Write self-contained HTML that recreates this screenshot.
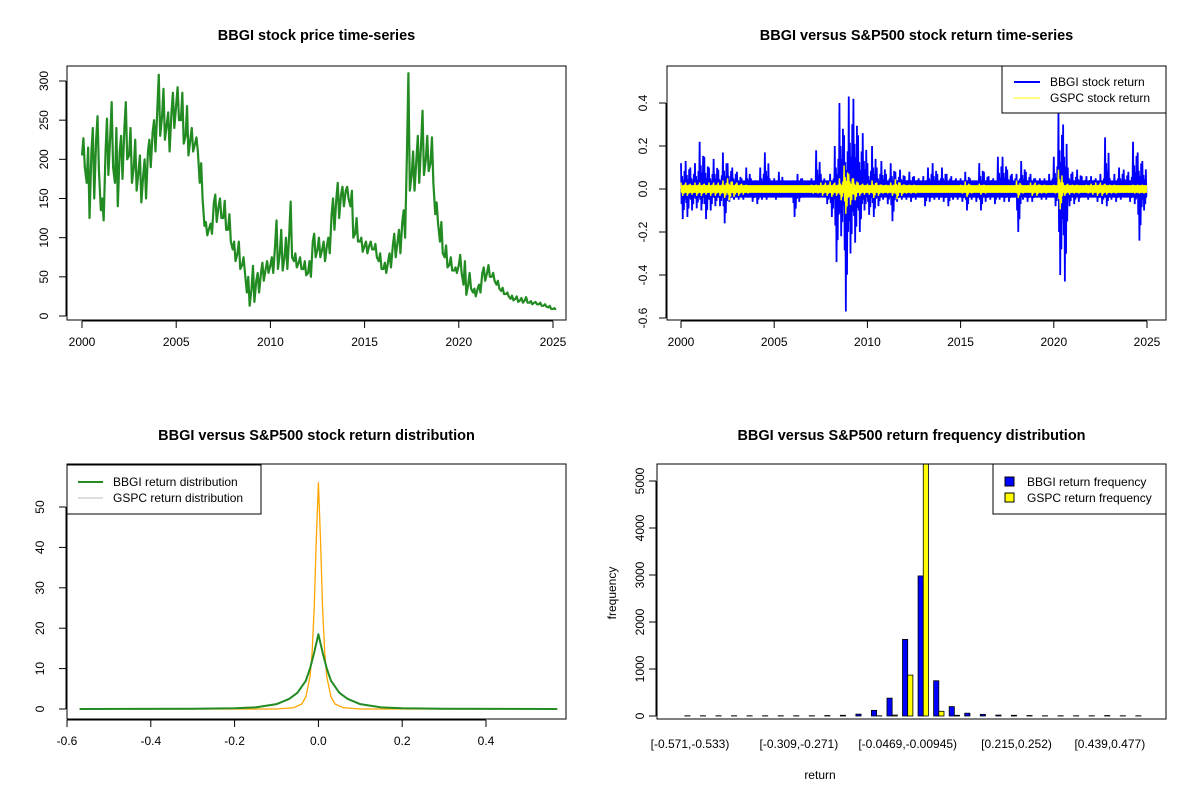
<!DOCTYPE html>
<html><head><meta charset="utf-8"><style>
html,body{margin:0;padding:0;background:#fff;}
svg{display:block;font-family:"Liberation Sans",Arial,sans-serif;}
</style></head><body>
<svg id="s" width="1200" height="800" viewBox="0 0 1200 800"></svg>
<script>
// ---------- data ----------
const priceYears = [];
for (let i = 0; i <= 100; i++) priceYears.push(2000 + i * 0.25);
const priceMid = [205,170,210,225,135,210,230,170,210,240,205,190,185,180,210,235,265,255,245,260,270,250,230,225,220,170,115,112,145,140,125,110,85,80,65,30,35,45,55,60,65,90,80,75,105,70,68,60,55,95,85,85,90,130,150,155,160,140,105,95,90,90,85,70,60,70,90,95,120,210,180,200,220,200,195,130,95,75,65,58,65,40,40,30,35,55,55,50,40,32,28,22,22,20,20,17,17,15,13,11,9];
const priceLo = [190,125,150,185,122,180,190,140,175,200,170,160,145,150,190,210,230,225,210,240,250,220,205,210,210,150,103,105,120,125,110,95,70,60,55,13,18,30,45,55,55,60,58,60,75,62,60,52,50,75,75,70,80,110,125,140,150,100,95,82,80,85,75,60,55,62,75,80,100,160,160,170,180,185,170,118,80,62,58,55,55,27,35,25,30,45,50,45,35,28,25,20,18,17,17,15,15,13,12,9,8];
const priceHi = [227,215,240,255,150,252,273,240,230,273,240,225,205,200,225,250,308,290,260,285,292,285,268,240,228,195,120,118,155,150,147,130,95,95,75,50,64,55,68,70,75,122,110,100,146,80,75,70,70,105,100,95,100,150,170,165,165,160,125,100,95,95,92,80,68,80,105,110,135,310,210,230,262,230,228,145,120,90,75,62,78,70,55,35,40,62,65,55,45,36,30,26,25,23,24,19,18,17,15,13,10];

const bbgiHi = [0.12,0.13,0.10,0.12,0.22,0.15,0.10,0.14,0.09,0.17,0.12,0.10,0.08,0.05,0.10,0.05,0.04,0.10,0.17,0.05,0.05,0.08,0.04,0.03,0.04,0.07,0.05,0.03,0.05,0.18,0.07,0.04,0.07,0.20,0.40,0.25,0.43,0.42,0.25,0.26,0.12,0.20,0.10,0.13,0.07,0.12,0.08,0.09,0.06,0.08,0.06,0.05,0.06,0.10,0.12,0.07,0.10,0.07,0.06,0.05,0.05,0.08,0.05,0.04,0.12,0.08,0.06,0.05,0.15,0.15,0.09,0.07,0.07,0.13,0.08,0.07,0.05,0.05,0.05,0.07,0.15,0.36,0.30,0.10,0.08,0.09,0.06,0.06,0.06,0.05,0.07,0.24,0.05,0.07,0.10,0.09,0.08,0.22,0.17,0.13,0.05];
const bbgiLo = [-0.14,-0.13,-0.10,-0.09,-0.10,-0.14,-0.10,-0.08,-0.08,-0.16,-0.06,-0.05,-0.05,-0.05,-0.04,-0.06,-0.07,-0.05,-0.05,-0.04,-0.05,-0.04,-0.03,-0.04,-0.13,-0.06,-0.04,-0.03,-0.03,-0.04,-0.03,-0.07,-0.13,-0.34,-0.22,-0.57,-0.30,-0.25,-0.20,-0.10,-0.12,-0.13,-0.08,-0.05,-0.07,-0.15,-0.06,-0.05,-0.05,-0.06,-0.05,-0.04,-0.08,-0.06,-0.05,-0.05,-0.06,-0.08,-0.05,-0.05,-0.06,-0.10,-0.05,-0.06,-0.10,-0.06,-0.05,-0.07,-0.05,-0.06,-0.06,-0.04,-0.20,-0.05,-0.06,-0.06,-0.04,-0.05,-0.05,-0.04,-0.08,-0.40,-0.43,-0.08,-0.07,-0.06,-0.04,-0.05,-0.04,-0.06,-0.07,-0.08,-0.05,-0.06,-0.05,-0.04,-0.06,-0.07,-0.24,-0.10,-0.07];
const gspcHi = [0.03,0.03,0.025,0.03,0.03,0.025,0.03,0.03,0.03,0.04,0.05,0.035,0.03,0.025,0.02,0.015,0.015,0.015,0.015,0.015,0.015,0.015,0.015,0.015,0.015,0.015,0.015,0.015,0.02,0.02,0.03,0.03,0.035,0.03,0.05,0.11,0.07,0.05,0.03,0.025,0.025,0.04,0.03,0.02,0.02,0.03,0.045,0.03,0.02,0.02,0.02,0.015,0.015,0.015,0.015,0.015,0.015,0.015,0.015,0.015,0.02,0.035,0.02,0.015,0.025,0.02,0.015,0.01,0.01,0.01,0.01,0.01,0.04,0.02,0.015,0.03,0.03,0.02,0.02,0.015,0.02,0.09,0.03,0.025,0.02,0.02,0.015,0.02,0.025,0.03,0.03,0.025,0.02,0.02,0.015,0.015,0.015,0.02,0.02,0.02,0.02];
const gspcLo = gspcHi.map(v => -v * 1.05);

const densBbgiX = [-0.57,-0.3,-0.2,-0.15,-0.1,-0.07,-0.05,-0.03,-0.02,-0.01,0,0.01,0.02,0.03,0.05,0.07,0.1,0.15,0.2,0.3,0.57];
const densBbgiY = [0,0.05,0.2,0.4,1.2,2.5,4,7,10,14,18.5,14,10,7,4,2.5,1.2,0.4,0.2,0.05,0];
const densGspcX = [-0.57,-0.1,-0.06,-0.04,-0.03,-0.02,-0.015,-0.01,-0.005,0,0.005,0.01,0.015,0.02,0.03,0.04,0.06,0.1,0.57];
const densGspcY = [0,0,0.3,1.2,3,8,14,25,42,56,42,25,14,8,3,1.2,0.3,0,0];

const histBbgi = [5,5,5,5,5,5,5,5,5,10,15,40,120,380,1630,2980,750,200,60,35,20,15,10,5,5,5,5,10,5,5];
const histGspc = [0,0,0,0,0,0,0,0,0,0,0,0,5,20,870,5600,100,15,0,0,0,0,0,0,0,0,0,0,0,0];
const histLabels = ["[-0.571,-0.533)","[-0.309,-0.271)","[-0.0469,-0.00945)","[0.215,0.252)","[0.439,0.477)"];
const histLabelIdx = [0,7,14,21,27];

const yearTicks = [2000,2005,2010,2015,2020,2025];
const priceTicks = [0,50,100,150,200,250,300];
const retTicks = [-0.6,-0.4,-0.2,0.0,0.2,0.4];
const densXTicks = [-0.6,-0.4,-0.2,0,0.2,0.4];
const densYTicks = [0,10,20,30,40,50];
const freqTicks = [0,1000,2000,3000,4000,5000];

// ---------- helpers ----------
const S = document.getElementById('s');
const NS = 'http://www.w3.org/2000/svg';
function mk(tag, attrs, parent) {
  const e = document.createElementNS(NS, tag);
  for (const k in attrs) e.setAttribute(k, attrs[k]);
  (parent || S).appendChild(e);
  return e;
}
function txt(x, y, s, size, extra, parent) {
  const t = mk('text', Object.assign({x: x, y: y, 'font-size': size, 'text-anchor': 'middle', fill: '#000'}, extra || {}), parent);
  t.textContent = s;
  return t;
}
function lin(d0, d1, r0, r1) { return v => r0 + (v - d0) * (r1 - r0) / (d1 - d0); }

function panel(name, box, title) {
  const g = mk('g', {});
  
  
  const t = txt((box.x0 + box.x1) / 2, box.titleY, title, 14.5, {'font-weight': 'bold'}, g);
  
  
  return g;
}
function frame(g, box, name) {
  const r = mk('rect', {x: box.x0, y: box.y0, width: box.x1 - box.x0, height: box.y1 - box.y0, fill: 'none', stroke: '#000', 'stroke-width': 1}, g);
  
  
}
function xAxis(g, box, ticks, sx, fmt, name) {
  const a = mk('g', {}, g);
  
  
  const y = box.y1 + 1;
  mk('line', {x1: sx(ticks[0]), x2: sx(ticks[ticks.length - 1]), y1: y, y2: y, stroke: '#000'}, a);
  ticks.forEach(v => {
    mk('line', {x1: sx(v), x2: sx(v), y1: y, y2: y + 7, stroke: '#000'}, a);
    txt(sx(v), y + 25, fmt(v), 12, {}, a);
  });
}
function yAxis(g, box, ticks, sy, fmt, name, lx) {
  const a = mk('g', {}, g);
  
  
  const x = box.x0 - 1;
  mk('line', {x1: x, x2: x, y1: sy(ticks[0]), y2: sy(ticks[ticks.length - 1]), stroke: '#000'}, a);
  ticks.forEach(v => {
    mk('line', {x1: x - 7, x2: x, y1: sy(v), y2: sy(v), stroke: '#000'}, a);
    txt(lx, sy(v), fmt(v), 12, {transform: 'rotate(-90 ' + lx + ' ' + sy(v) + ')'}, a);
  });
}
function clip(id, box) {
  const c = mk('clipPath', {id: id});
  mk('rect', {x: box.x0, y: box.y0, width: box.x1 - box.x0, height: box.y1 - box.y0}, c);
}

// ---------- Panel 1: price ----------
(function () {
  const box = {x0: 67, x1: 566, y0: 66, y1: 320, titleY: 40};
  const g = panel('price-panel', box, 'BBGI stock price time-series');
  const sx = lin(2000, 2025, 82, 553), sy = lin(0, 300, 316, 81);
  const q = 0.25;
  let pts = [];
  priceYears.forEach((yr, i) => {
    pts.push([sx(yr), sy(priceMid[i])]);
    pts.push([sx(yr + q * 0.3), sy(priceHi[i])]);
    pts.push([sx(yr + q * 0.6), sy(priceLo[i])]);
  });
  const p = mk('polyline', {points: pts.map(a => a.join(',')).join(' '), fill: 'none', stroke: '#228B22', 'stroke-width': 2.2, 'stroke-linejoin': 'round'}, g);
  
  
  frame(g, box, 'price');
  xAxis(g, box, yearTicks, sx, v => v, 'price');
  yAxis(g, box, priceTicks, sy, v => v, 'price', 48);
})();

// ---------- Panel 2: returns ----------
(function () {
  const box = {x0: 667, x1: 1166, y0: 66, y1: 320, titleY: 40};
  const g = panel('return-panel', box, 'BBGI versus S&P500 stock return time-series');
  clip('c2', box);
  const sx = lin(2000, 2025, 681, 1147), sy = lin(0, 0.2, 189, 146);
  function series(hi, lo, color, w, name, core) {
    let pts = [];
    priceYears.forEach((yr, i) => {
      if (i === hi.length - 1) return;
      const f = [hi[i], lo[i] * 0.5, hi[i] * 0.5, lo[i], hi[i] * 0.35, lo[i] * 0.7, hi[i] * 0.7, lo[i] * 0.35];
      f.forEach((v, k) => pts.push([sx(yr + 0.25 * k / f.length), sy(v)]));
    });
    const p = mk('polyline', {points: pts.map(a => a.join(',')).join(' '), fill: 'none', stroke: color, 'stroke-width': w, 'clip-path': 'url(#c2)'}, g);
    
    
    const r = mk('rect', {x: sx(2000), y: sy(core), width: sx(2025) - sx(2000), height: sy(-core) - sy(core), fill: color}, g);
    
    
  }
  series(bbgiHi, bbgiLo, '#0000FF', 1.8, 'bbgi-return-line', 0.04);
  series(gspcHi, gspcLo, '#FFFF00', 1.4, 'gspc-return-line', 0.018);
  frame(g, box, 'return');
  xAxis(g, box, yearTicks, sx, v => v, 'return');
  yAxis(g, box, retTicks, sy, v => v.toFixed(1), 'return', 647);
  const lg = mk('g', {}, g);
  
  
  mk('rect', {x: 1002, y: 66, width: 164, height: 47, fill: '#fff', stroke: '#000'}, lg);
  mk('line', {x1: 1014, x2: 1040, y1: 82, y2: 82, stroke: '#0000FF', 'stroke-width': 2}, lg);
  mk('line', {x1: 1014, x2: 1040, y1: 98, y2: 98, stroke: '#FFFF00', 'stroke-width': 1}, lg);
  txt(1050, 86, 'BBGI stock return', 12, {'text-anchor': 'start'}, lg);
  txt(1050, 102, 'GSPC stock return', 12, {'text-anchor': 'start'}, lg);
})();

// ---------- Panel 3: density ----------
(function () {
  const box = {x0: 67, x1: 566, y0: 464, y1: 719, titleY: 440};
  const g = panel('density-panel', box, 'BBGI versus S&P500 stock return distribution');
  const sx = lin(-0.6, 0.4, 67, 486), sy = lin(0, 50, 709, 507);
  function curve(xs, ys, color, w, name) {
    const p = mk('polyline', {points: xs.map((x, i) => sx(x) + ',' + sy(ys[i])).join(' '), fill: 'none', stroke: color, 'stroke-width': w, 'stroke-linejoin': 'round'}, g);
    
    
  }
  curve(densGspcX, densGspcY, '#FFA500', 1.3, 'gspc-density-line');
  curve(densBbgiX, densBbgiY, '#228B22', 2, 'bbgi-density-line');
  frame(g, box, 'density');
  xAxis(g, box, densXTicks, sx, v => v === 0 ? '0.0' : v.toFixed(1), 'density');
  yAxis(g, box, densYTicks, sy, v => v, 'density', 44);
  const lg = mk('g', {}, g);
  
  
  mk('rect', {x: 67, y: 465, width: 194, height: 49, fill: '#fff', stroke: '#000'}, lg);
  mk('line', {x1: 78, x2: 103, y1: 482, y2: 482, stroke: '#228B22', 'stroke-width': 2}, lg);
  mk('line', {x1: 78, x2: 103, y1: 498, y2: 498, stroke: '#BEBEBE', 'stroke-width': 1}, lg);
  txt(113, 486, 'BBGI return distribution', 12, {'text-anchor': 'start'}, lg);
  txt(113, 502, 'GSPC return distribution', 12, {'text-anchor': 'start'}, lg);
})();

// ---------- Panel 4: histogram ----------
(function () {
  const box = {x0: 657, x1: 1166, y0: 464, y1: 719, titleY: 440};
  const g = panel('histogram-panel', box, 'BBGI versus S&P500 return frequency distribution');
  clip('c4', box);
  const gc = i => 690 + 15.55 * i;
  const bw = 15.55 / 3;
  const sy = lin(0, 1000, 716, 669);
  histBbgi.forEach((v, i) => {
    const r = mk('rect', {x: gc(i) - bw, y: sy(v), width: bw, height: sy(0) - sy(v), fill: '#0000FF', stroke: '#000', 'stroke-width': 0.8, 'clip-path': 'url(#c4)'}, g);
    
    
  });
  histGspc.forEach((v, i) => {
    const r = mk('rect', {x: gc(i), y: sy(v), width: bw, height: sy(0) - sy(v), fill: '#FFFF00', stroke: '#000', 'stroke-width': 0.8, 'clip-path': 'url(#c4)'}, g);
    
    
  });
  frame(g, box, 'histogram');
  const xa = mk('g', {}, g);
  
  
  histLabelIdx.forEach((idx, k) => txt(gc(idx), 748, histLabels[k], 12, {}, xa));
  yAxis(g, box, freqTicks, sy, v => v, 'histogram', 644);
  const xt = txt(820, 779, 'return', 12, {}, g);
  
  
  const yt = txt(616, 593, 'frequency', 12, {transform: 'rotate(-90 616 593)'}, g);
  
  
  const lg = mk('g', {}, g);
  
  
  mk('rect', {x: 993, y: 464, width: 173, height: 50, fill: '#fff', stroke: '#000'}, lg);
  mk('rect', {x: 1005, y: 477, width: 9, height: 9, fill: '#0000FF', stroke: '#000'}, lg);
  mk('rect', {x: 1005, y: 493, width: 9, height: 9, fill: '#FFFF00', stroke: '#000'}, lg);
  txt(1027, 486, 'BBGI return frequency', 12, {'text-anchor': 'start'}, lg);
  txt(1027, 502, 'GSPC return frequency', 12, {'text-anchor': 'start'}, lg);
})();
</script>
</body></html>
